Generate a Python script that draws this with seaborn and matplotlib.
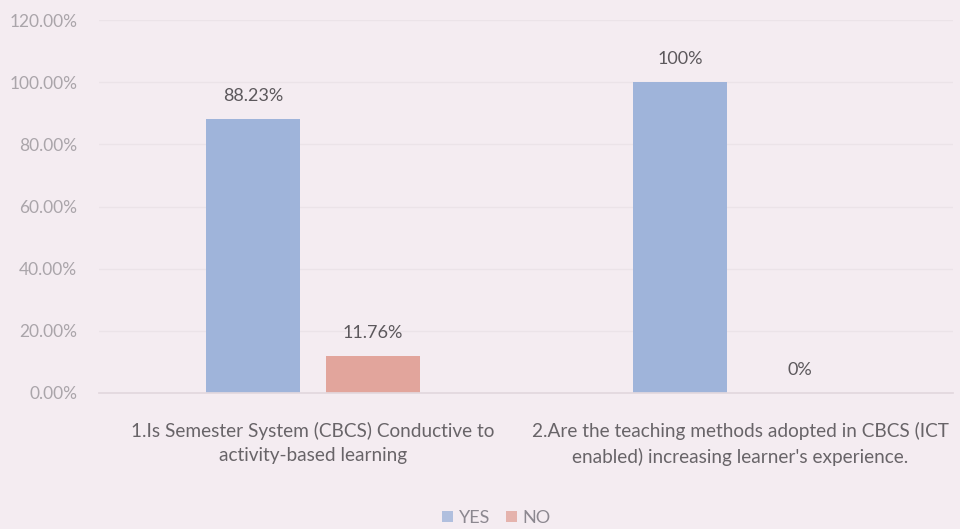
import matplotlib
matplotlib.use("Agg")
import matplotlib.pyplot as plt
import seaborn as sns
import pandas as pd
from matplotlib.ticker import FuncFormatter

questions = [
    "1.Is Semester System (CBCS) Conductive to\nactivity-based learning",
    "2.Are the teaching methods adopted in CBCS (ICT\nenabled) increasing learner's experience.",
]
series = ["YES", "NO"]
yes_values = [88.23, 100.0]
no_values = [11.76, 0.0]
yes_labels = ["88.23%", "100%"]
no_labels = ["11.76%", "0%"]
y_ticks = [0, 20, 40, 60, 80, 100, 120]

df = pd.DataFrame({
    "question": questions * 2,
    "answer": ["YES"] * 2 + ["NO"] * 2,
    "value": yes_values + no_values,
})

sns.set_theme(style="white")
plt.rcParams["font.family"] = ["Lato", "DejaVu Sans"]

bg = "#f4ecf1"
fig = plt.figure(figsize=(9.6, 5.29), dpi=100, facecolor=bg)
ax = fig.add_axes([0.1036, 0.2571, 0.8896, 0.705])
ax.set_facecolor(bg)

palette = {"YES": "#9fb4da", "NO": "#e2a59c"}
sns.barplot(data=df, x="question", y="value", hue="answer", hue_order=series,
            order=questions, palette=palette, width=0.562, gap=0.217,
            saturation=1, linewidth=0, ax=ax, legend=True)

ax.set_xlim(-0.5, 1.5)
ax.set_ylim(0, 120)
ax.set_yticks(y_ticks)
ax.yaxis.set_major_formatter(FuncFormatter(lambda v, p: f"{v:.2f}%"))
ax.grid(axis="y", color="#ebe3e8", linewidth=1)
ax.set_axisbelow(True)
for s in ["top", "right", "left"]:
    ax.spines[s].set_visible(False)
ax.spines["bottom"].set_color("#e2d8de")
ax.tick_params(axis="y", length=0, pad=16, labelsize=12.5, labelcolor="#aaa5aa")
ax.tick_params(axis="x", length=0, pad=21, labelsize=13.7, labelcolor="#686468")
for lbl in ax.get_xticklabels():
    lbl.set_linespacing(1.5)
ax.set_xlabel("")
ax.set_ylabel("")

labels_by_series = [yes_labels, no_labels]
for container, labs in zip(ax.containers, labels_by_series):
    ax.bar_label(container, labels=labs, padding=11, fontsize=13, color="#5c585c")

ax.legend(loc="center", bbox_to_anchor=(0.465, -0.335), ncol=2, frameon=False,
          fontsize=13, handlelength=0.6, handleheight=0.6, handletextpad=0.3,
          columnspacing=0.9, labelcolor="#8c8890", borderpad=0.1)
for h in ax.get_legend().legend_handles:
    h.set_alpha(0.8)

fig.savefig("out.png", dpi=100, facecolor=bg)
